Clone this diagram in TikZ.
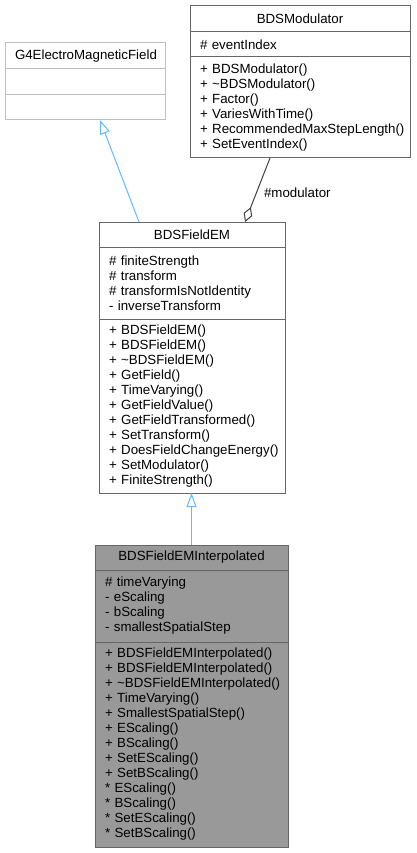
\documentclass[tikz,border=0pt]{standalone}
\usepackage{fontspec}
\setmainfont{Liberation Sans}
\usetikzlibrary{arrows.meta,positioning}
\definecolor{umlgray}{HTML}{666666}
\definecolor{umllight}{HTML}{BFBFBF}
\definecolor{umlfill}{HTML}{999999}
\definecolor{umlblue}{HTML}{63B8FF}
\definecolor{umlline}{HTML}{404040}
\tikzset{
  part/.style={draw=umlgray, fill=white, line width=1pt, inner xsep=10pt, inner ysep=0pt,
    outer sep=0pt, align=left, font=\fontsize{13.3}{15}\selectfont,
    execute at begin node={\hyphenpenalty=10000\exhyphenpenalty=10000}},
  head/.style={part, align=center},
  inherit/.style={umlblue, line width=1pt, -{Triangle[open, length=14pt, width=10pt]}},
  aggregate/.style={umlline, line width=1pt, {Diamond[open, length=16pt, width=9pt]}-}
}
\begin{document}
\begin{tikzpicture}[x=1pt, y=-1pt]
  \useasboundingbox (0,0) rectangle (416,853);

  \node[head, draw=umllight, text width=140pt, minimum height=26pt, anchor=north west] (g4title) at (5,43) {G4ElectroMagneticField};
  \node[part, draw=umllight, text width=140pt, minimum height=26pt, below=0pt of g4title] (g4attr) {};
  \node[part, draw=umllight, text width=140pt, minimum height=25pt, below=0pt of g4attr] (g4meth) {};

  \node[head, text width=200pt, minimum height=26pt, anchor=north west] (modtitle) at (190,6) {BDSModulator};
  \node[part, text width=200pt, minimum height=25pt, below=0pt of modtitle] (modattr) {\#~eventIndex};
  \node[part, text width=200pt, minimum height=101pt, below=0pt of modattr] (modmeth) {
    +~BDSModulator()\\
    +~\textasciitilde BDSModulator()\\
    +~Factor()\\
    +~VariesWithTime()\\
    +~RecommendedMaxStepLength()\\
    +~SetEventIndex()};

  \node[head, text width=166pt, minimum height=25pt, anchor=north west] (emtitle) at (99,222) {BDSFieldEM};
  \node[part, text width=166pt, minimum height=72pt, below=0pt of emtitle] (emattr) {
    \#~finiteStrength\\
    \#~transform\\
    \#~transformIsNotIdentity\\
    -~inverseTransform};
  \node[part, text width=166pt, minimum height=174pt, below=0pt of emattr] (emmeth) {
    +~BDSFieldEM()\\
    +~BDSFieldEM()\\
    +~\textasciitilde BDSFieldEM()\\
    +~GetField()\\
    +~TimeVarying()\\
    +~GetFieldValue()\\
    +~GetFieldTransformed()\\
    +~SetTransform()\\
    +~DoesFieldChangeEnergy()\\
    +~SetModulator()\\
    +~FiniteStrength()};

  \node[head, fill=umlfill, text width=173pt, minimum height=25pt, anchor=north west] (interptitle) at (95,545) {BDSFieldEMInterpolated};
  \node[part, fill=umlfill, text width=173pt, minimum height=72pt, below=0pt of interptitle] (interpattr) {
    \#~timeVarying\\
    -~eScaling\\
    -~bScaling\\
    -~smallestSpatialStep};
  \node[part, fill=umlfill, text width=173pt, minimum height=205pt, below=0pt of interpattr] (interpmeth) {
    +~BDSFieldEMInterpolated()\\
    +~BDSFieldEMInterpolated()\\
    +~\textasciitilde BDSFieldEMInterpolated()\\
    +~TimeVarying()\\
    +~SmallestSpatialStep()\\
    +~EScaling()\\
    +~BScaling()\\
    +~SetEScaling()\\
    +~SetBScaling()\\
    {*}~EScaling()\\
    {*}~BScaling()\\
    {*}~SetEScaling()\\
    {*}~SetBScaling()};

  \path[inherit]
    ([xshift=-53pt]emtitle.north) edge ([xshift=15pt]g4meth.south)
    (interptitle.north) edge (interptitle.north |- emmeth.south);
  \path[aggregate]
    ([xshift=53pt]emtitle.north) edge node[right=4pt, pos=0.45, text=black, font=\fontsize{13.3}{15}\selectfont] {\#modulator} ([xshift=-30pt]modmeth.south);
\end{tikzpicture}
\end{document}
